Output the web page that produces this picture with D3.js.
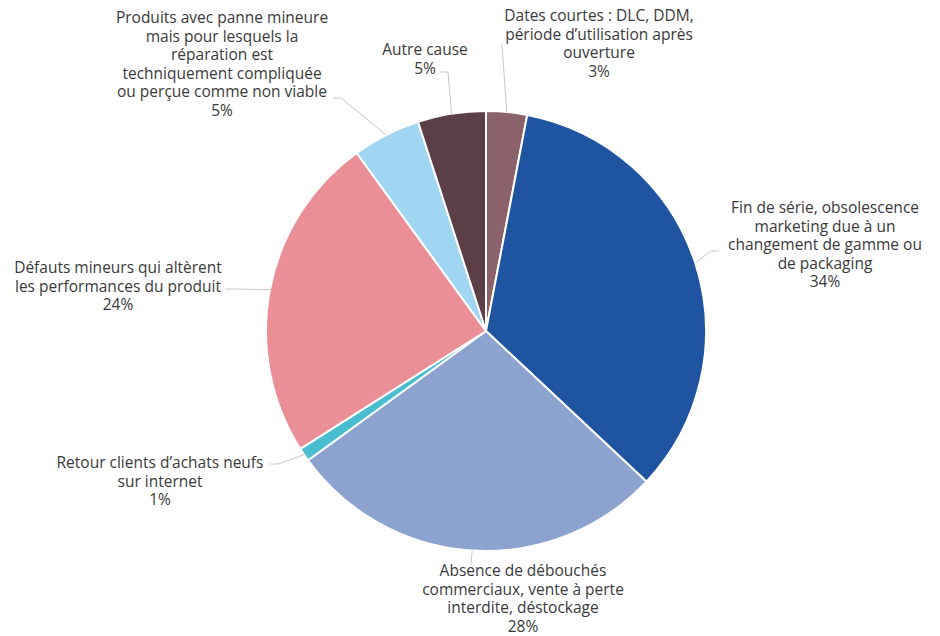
<!DOCTYPE html>
<html>
<head>
<meta charset="utf-8">
<script src="https://cdn.jsdelivr.net/npm/d3@7"></script>
<style>
  body { margin: 0; background: #fff; }
  svg text { font-family: "Open Sans", sans-serif; font-size: 15.5px; fill: #3a3a3a; }
</style>
</head>
<body>
<div id="chart"></div>
<script>
// data, clockwise from the top
var categories = [
  "Dates courtes : DLC, DDM, période d’utilisation après ouverture",
  "Fin de série, obsolescence marketing due à un changement de gamme ou de packaging",
  "Absence de débouchés commerciaux, vente à perte interdite, déstockage",
  "Retour clients d’achats neufs sur internet",
  "Défauts mineurs qui altèrent les performances du produit",
  "Produits avec panne mineure mais pour lesquels la réparation est techniquement compliquée ou perçue comme non viable",
  "Autre cause"
];
var values = [3, 34, 28, 1, 24, 5, 5];
var colors = ["#8b626a", "#1f55a0", "#8ca3cf", "#4bbdd1", "#e98f95", "#a1d6f2", "#5b3e46"];

// how each label is wrapped (as in the original)
var labelLines = [
  ["Dates courtes : DLC, DDM,", "période d’utilisation après", "ouverture"],
  ["Fin de série, obsolescence", "marketing due à un", "changement de gamme ou", "de packaging"],
  ["Absence de débouchés", "commerciaux, vente à perte", "interdite, déstockage"],
  ["Retour clients d’achats neufs", "sur internet"],
  ["Défauts mineurs qui altèrent", "les performances du produit"],
  ["Produits avec panne mineure", "mais pour lesquels la", "réparation est", "techniquement compliquée", "ou perçue comme non viable"],
  ["Autre cause"]
];

// label layout: text centre x, first line y, leader end point, stub direction
var labelPos = [
  {x: 599, y: 16, ex: 502, ey: 44, dir: 0},
  {x: 825, y: 208, ex: 719, ey: 251, dir: -1},
  {x: 523, y: 571, ex: 471, ey: 565, dir: 0},
  {x: 160, y: 463, ex: 270, ey: 464, dir: 1},
  {x: 118, y: 268, ex: 225, ey: 289, dir: 1},
  {x: 222, y: 18, ex: 333, ey: 98, dir: 1},
  {x: 425, y: 50, ex: 440, ey: 72, dir: 1}
];

var width = 940, height = 636;
var cx = 486, cy = 331, radius = 220;
var lineH = 18.5;

var svg = d3.select('#chart').append('svg')
  .attr('width', width)
  .attr('height', height);

var g = svg.append('g')
  .attr('transform', 'translate(' + cx + ',' + cy + ')');

var pie = d3.pie().sort(null).value(function(d) { return d; });
var arcs = pie(values);

var arc = d3.arc().innerRadius(0).outerRadius(radius);

g.selectAll('path.slice')
  .data(arcs)
  .enter()
  .append('path')
  .attr('class', 'slice')
  .attr('d', arc)
  .attr('fill', function(d, i) { return colors[i]; })
  .attr('stroke', '#fff')
  .attr('stroke-width', 2)
  .attr('stroke-linejoin', 'round');

// leader lines from the middle of each slice's edge to its label
var leaders = svg.append('g');
arcs.forEach(function(d, i) {
  var p = labelPos[i];
  var mid = (d.startAngle + d.endAngle) / 2;
  var start = [cx + radius * Math.sin(mid), cy - radius * Math.cos(mid)];
  var pts = [start, [p.ex + p.dir * 8, p.ey], [p.ex, p.ey]];
  leaders.append('path')
    .attr('d', d3.line()(pts))
    .attr('fill', 'none')
    .attr('stroke', '#c8c8c8')
    .attr('stroke-width', 1);
});

// labels
var labels = svg.append('g');
arcs.forEach(function(d, i) {
  var p = labelPos[i];
  var lines = labelLines[i].concat([values[i] + '%']);
  var t = labels.append('text')
    .attr('text-anchor', 'middle')
    .attr('x', p.x)
    .attr('y', p.y);
  lines.forEach(function(l, j) {
    t.append('tspan')
      .attr('x', p.x)
      .attr('y', p.y + j * lineH)
      .attr('dy', '0.35em')
      .text(l);
  });
});
</script>
</body>
</html>
